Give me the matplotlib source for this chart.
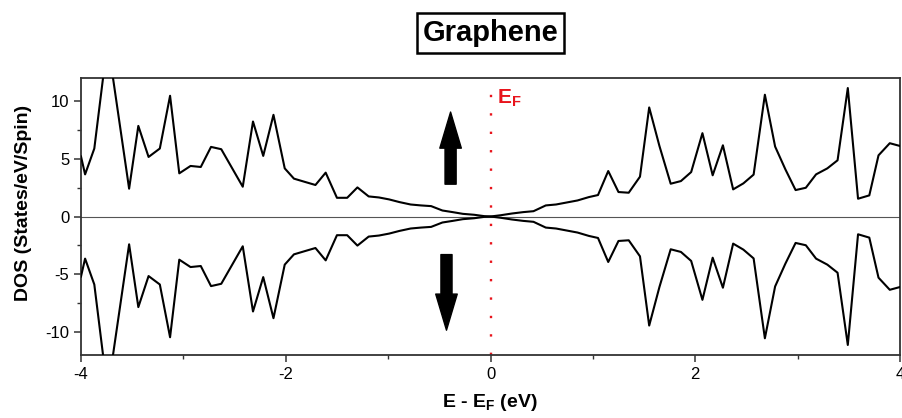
import matplotlib
matplotlib.use("Agg")
import matplotlib.pyplot as plt
from matplotlib.ticker import MultipleLocator

plt.rcParams["font.family"] = ["Liberation Sans", "DejaVu Sans"]
plt.rcParams["mathtext.fontset"] = "custom"
plt.rcParams["mathtext.bf"] = "Liberation Sans:bold"
plt.rcParams["mathtext.rm"] = "Liberation Sans"
plt.rcParams["axes.unicode_minus"] = False

# ---- data ----
energy = [-4.00, -3.96, -3.87, -3.74, -3.53, -3.44, -3.34, -3.23, -3.13, -3.04,
          -2.93, -2.83, -2.73, -2.63, -2.42, -2.32, -2.22, -2.12, -2.01, -1.92,
          -1.81, -1.71, -1.61, -1.50, -1.40, -1.30, -1.19, -1.09, -0.99, -0.89,
          -0.78, -0.68, -0.58, -0.47, -0.37, -0.27, -0.16, -0.06, 0.00, 0.10,
          0.21, 0.32, 0.42, 0.54, 0.64, 0.73, 0.85, 0.96, 1.05, 1.15,
          1.25, 1.35, 1.46, 1.55, 1.65, 1.76, 1.86, 1.96, 2.07, 2.17,
          2.27, 2.37, 2.47, 2.57, 2.68, 2.78, 2.88, 2.98, 3.08, 3.18,
          3.29, 3.39, 3.49, 3.59, 3.70, 3.79, 3.90, 4.00]

dos_up = [5.20, 3.65, 5.89, 15.2, 2.41, 7.85, 5.16, 5.89, 10.46, 3.74,
          4.38, 4.29, 6.03, 5.83, 2.58, 8.23, 5.25, 8.81, 4.17, 3.28,
          2.99, 2.73, 3.80, 1.62, 1.62, 2.52, 1.74, 1.65, 1.48, 1.25,
          1.04, 0.96, 0.90, 0.52, 0.38, 0.23, 0.15, 0.03, 0.00, 0.11,
          0.26, 0.38, 0.46, 0.96, 1.04, 1.19, 1.39, 1.68, 1.86, 3.94,
          2.12, 2.06, 3.45, 9.45, 6.11, 2.84, 3.07, 3.85, 7.22, 3.57,
          6.17, 2.35, 2.87, 3.63, 10.55, 6.06, 4.09, 2.29, 2.49, 3.65,
          4.17, 4.87, 11.13, 1.54, 1.83, 5.30, 6.35, 6.11]

dos_down = [-5.20, -3.65, -5.89, -15.2, -2.41, -7.85, -5.16, -5.89, -10.46, -3.74,
            -4.38, -4.29, -6.03, -5.83, -2.58, -8.23, -5.25, -8.81, -4.17, -3.28,
            -2.99, -2.73, -3.80, -1.62, -1.62, -2.52, -1.74, -1.65, -1.48, -1.25,
            -1.04, -0.96, -0.90, -0.52, -0.38, -0.23, -0.15, -0.03, 0.00, -0.11,
            -0.26, -0.38, -0.46, -0.96, -1.04, -1.19, -1.39, -1.68, -1.86, -3.94,
            -2.12, -2.06, -3.45, -9.45, -6.11, -2.84, -3.07, -3.85, -7.22, -3.57,
            -6.17, -2.35, -2.87, -3.63, -10.55, -6.06, -4.09, -2.29, -2.49, -3.65,
            -4.17, -4.87, -11.13, -1.54, -1.83, -5.30, -6.35, -6.11]

x_ticks = [-4, -2, 0, 2, 4]
y_ticks = [-10, -5, 0, 5, 10]
title_text = "Graphene"
x_label = r"E - E$_\mathbf{F}$ (eV)"
y_label = "DOS (States/eV/Spin)"
fermi_label = r"$\mathbf{E_F}$"

# ---- figure ----
fig = plt.figure(figsize=(9.02, 4.18), dpi=100)
ax = fig.add_axes([0.0898, 0.1507, 0.908, 0.6627])

ax.axhline(0, color="#555555", lw=0.8, zorder=1)
ax.plot(energy, dos_up, color="black", lw=1.5, zorder=3)
ax.plot(energy, dos_down, color="black", lw=1.5, zorder=3)

# Fermi level
ax.plot([0, 0], [-12, 10.8], color="#e8141c", lw=1.7,
        linestyle=(0, (1, 6.8)), zorder=2)
ax.text(0.06, 10.25, fermi_label, color="#e8141c", fontsize=15,
        ha="left", va="center")

# spin arrows
arrow_style = "simple,head_length=26,head_width=15.5,tail_width=8"
ax.annotate("", xy=(-0.39, 9.05), xytext=(-0.39, 2.8),
            arrowprops=dict(arrowstyle=arrow_style, fc="black", ec="black",
                            shrinkA=0, shrinkB=0, mutation_scale=1))
ax.annotate("", xy=(-0.43, -9.85), xytext=(-0.43, -3.3),
            arrowprops=dict(arrowstyle=arrow_style, fc="black", ec="black",
                            shrinkA=0, shrinkB=0, mutation_scale=1))

ax.set_xlim(-4, 4)
ax.set_ylim(-12, 12)
ax.set_xticks(x_ticks)
ax.set_yticks(y_ticks)
ax.xaxis.set_minor_locator(MultipleLocator(1))
ax.yaxis.set_minor_locator(MultipleLocator(2.5))
ax.tick_params(which="major", direction="out", length=5, width=1.1,
               labelsize=12, color="#333333")
ax.tick_params(which="minor", direction="out", length=3, width=1.0,
               color="#333333")
for s in ax.spines.values():
    s.set_color("#333333")
    s.set_linewidth(1.3)

fig.text(0.5435, 0.036, x_label, fontsize=14, fontweight="bold",
         ha="center", va="center")
fig.text(0.026, 0.515, y_label, fontsize=14, fontweight="bold",
         ha="center", va="center", rotation=90)
fig.text(0.5435, 0.921, title_text, fontsize=21, fontweight="bold",
         ha="center", va="center",
         bbox=dict(boxstyle="square,pad=0.2", fc="white", ec="black", lw=1.8))

fig.savefig("out.png", dpi=100)
